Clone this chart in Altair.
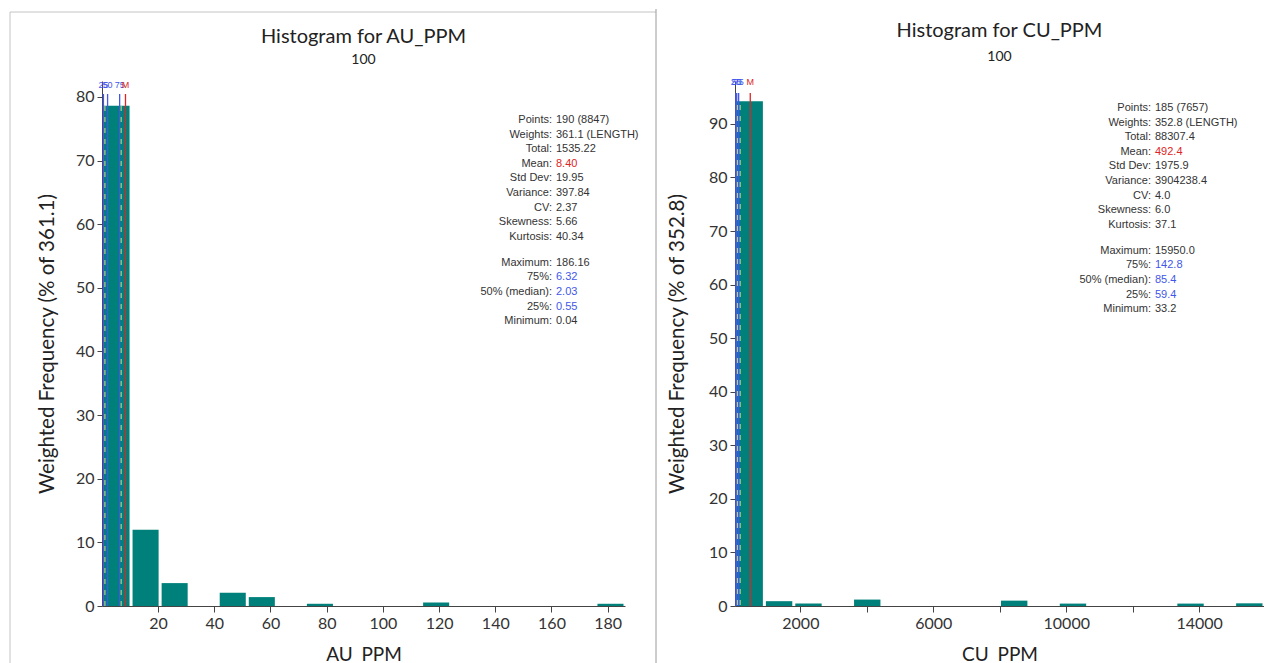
import altair as alt
import pandas as pd

# ---------------- data ----------------
au_name = "AU_PPM"
au_min, au_max = 0.04, 186.16
au_heights = [78.6, 12.0, 3.6, 0, 2.1, 1.4, 0, 0.35, 0, 0, 0, 0.55, 0, 0, 0, 0, 0, 0.35]
au_marker_vals = [0.55, 2.03, 6.32, 8.40]
au_stat_values = ["190 (8847)", "361.1 (LENGTH)", "1535.22", "8.40", "19.95", "397.84",
                  "2.37", "5.66", "40.34", "186.16", "6.32", "2.03", "0.55", "0.04"]
au_ytitle = "Weighted Frequency (% of 361.1)"
au_yticks = [0, 10, 20, 30, 40, 50, 60, 70, 80]
au_xticks = [20, 40, 60, 80, 100, 120, 140, 160, 180]

cu_name = "CU_PPM"
cu_min, cu_max = 33.2, 15950.0
cu_heights = [94.2, 0.9, 0.45, 0, 1.2, 0, 0, 0, 0, 1.0, 0, 0.45, 0, 0, 0, 0.45, 0, 0.5]
cu_marker_vals = [59.4, 85.4, 142.8, 492.4]
cu_stat_values = ["185 (7657)", "352.8 (LENGTH)", "88307.4", "492.4", "1975.9", "3904238.4",
                  "4.0", "6.0", "37.1", "15950.0", "142.8", "85.4", "59.4", "33.2"]
cu_ytitle = "Weighted Frequency (% of 352.8)"
cu_yticks = [0, 10, 20, 30, 40, 50, 60, 70, 80, 90]
cu_xticks = [2000, 4000, 6000, 8000, 10000, 12000, 14000]
cu_xlabeled = [2000, 6000, 10000, 14000]

subtitle = "100"
marker_labels = ["25", "50", "75", "M"]
stat_labels = ["Points:", "Weights:", "Total:", "Mean:", "Std Dev:", "Variance:", "CV:",
               "Skewness:", "Kurtosis:", "Maximum:", "75%:", "50% (median):", "25%:", "Minimum:"]
stat_kinds = ["n", "n", "n", "mean", "n", "n", "n", "n", "n", "n", "q", "q", "q", "n"]

# ---------------- style ----------------
TEAL = "#00807a"
BLUE = "#4257ea"
RED = "#e02424"
PALE = "#cfe08a"
TXT = "#333333"
FONT = "Lato"
SFONT = "Liberation Sans"
H = 525


def panel(name, vmin, vmax, heights, marker_vals, stat_values, ytitle, ydomain, yticks,
          xticks, labelexpr, width, title_y, sub_y, ytitle_x, stats_x, stats_y0,
          mlabel_y, mtop, borders):
    n = len(heights)
    w = (vmax - vmin) / n
    bars = pd.DataFrame({
        "start": [vmin + i * w for i in range(n)],
        "end": [vmin + (i + 1) * w for i in range(n)],
        "h": heights,
    })
    bars = bars[bars["h"] > 0]

    xargs = dict(values=xticks, title=name, format="d", labelFont=FONT, labelFontSize=16,
                 labelColor=TXT, tickSize=6, tickColor="#444", domainColor="#444",
                 labelPadding=3, labelFlush=False, grid=False, titleFont=FONT,
                 titleFontSize=19, titleFontWeight="normal", titleColor="#222",
                 titleX=width / 2, titleY=48, titleBaseline="middle")
    if labelexpr:
        xargs["labelExpr"] = labelexpr
    xaxis = alt.Axis(**xargs)
    yaxis = alt.Axis(values=yticks, title=ytitle, labelFont=FONT, labelFontSize=16,
                     labelColor=TXT, tickSize=5, tickColor="#444", domainColor="#444",
                     labelPadding=3, grid=False, titleFont=FONT, titleFontSize=20.5,
                     titleFontWeight="normal", titleColor="#222", titleX=ytitle_x,
                     titleY=H / 2, titleAngle=-90, titleBaseline="middle")

    xscale = alt.Scale(domain=[vmin, vmax], nice=False, zero=False)
    bar = alt.Chart(bars).mark_bar(color=TEAL, xOffset=1.5, x2Offset=-1.5).encode(
        x=alt.X("start:Q", scale=xscale, axis=xaxis),
        x2="end:Q",
        y=alt.Y("h:Q", scale=alt.Scale(domain=ydomain, nice=False), axis=yaxis),
        y2=alt.datum(0),
    )

    mk = pd.DataFrame({
        "v": marker_vals,
        "lab": marker_labels,
        "c": [BLUE, BLUE, BLUE, RED],
    })
    rules = alt.Chart(mk).mark_rule(strokeWidth=1.3).encode(
        x="v:Q", y=alt.value(mtop), y2=alt.value(H), color=alt.Color("c:N", scale=None))
    dashed = alt.Chart(mk.iloc[[0, 2]]).mark_rule(strokeWidth=1, strokeDash=[5, 6],
                                                  color=PALE, xOffset=1.5).encode(
        x="v:Q", y=alt.value(mtop + 12), y2=alt.value(H))
    mlabels = alt.Chart(mk).mark_text(font=SFONT, fontSize=9, baseline="middle").encode(
        x="v:Q", y=alt.value(mlabel_y), text="lab:N", color=alt.Color("c:N", scale=None))

    rows = []
    for i, (lab, val, kind) in enumerate(zip(stat_labels, stat_values, stat_kinds)):
        py = stats_y0 + i * 14.6 + (11.4 if i >= 9 else 0)
        col = RED if kind == "mean" else (BLUE if kind == "q" else TXT)
        rows.append({"label": lab, "value": val, "py": py, "vc": col})
    st = pd.DataFrame(rows)
    slabels = alt.Chart(st).mark_text(font=SFONT, fontSize=11, align="right",
                                      baseline="middle", color=TXT).encode(
        x=alt.value(stats_x), y=alt.Y("py:Q", scale=None, axis=None), text="label:N")
    svalues = alt.Chart(st).mark_text(font=SFONT, fontSize=11, align="left",
                                      baseline="middle").encode(
        x=alt.value(stats_x + 4), y=alt.Y("py:Q", scale=None, axis=None), text="value:N",
        color=alt.Color("vc:N", scale=None))

    ttl = alt.Chart(pd.DataFrame({"t": ["Histogram for " + name]})).mark_text(
        font=FONT, fontSize=20, color="#222", baseline="middle").encode(
        x=alt.value(width / 2), y=alt.value(title_y), text="t:N")
    sub = alt.Chart(pd.DataFrame({"t": [subtitle]})).mark_text(
        font=FONT, fontSize=14, color="#222", baseline="middle").encode(
        x=alt.value(width / 2), y=alt.value(sub_y), text="t:N")

    layers = [bar, rules, dashed, mlabels, slabels, svalues, ttl, sub]
    one = pd.DataFrame({"k": [0]})
    if borders:
        layers.append(alt.Chart(one).mark_rule(color="#c4c4c4", strokeWidth=1).encode(
            x=alt.value(-92), y=alt.value(-69), y2=alt.value(H + 58)))
        layers.append(alt.Chart(one).mark_rule(color="#c4c4c4", strokeWidth=1).encode(
            x=alt.value(-92), x2=alt.value(width + 31), y=alt.value(-69)))
        layers.append(alt.Chart(one).mark_rule(color="#9a9a9a", strokeWidth=1).encode(
            x=alt.value(width + 31), y=alt.value(-72), y2=alt.value(H + 58)))
    else:
        layers.append(alt.Chart(one).mark_rule(color="#9a9a9a", strokeWidth=1,
                                               strokeOpacity=0).encode(
            x=alt.value(-78), y=alt.value(-72), y2=alt.value(H + 58)))
    return alt.layer(*layers).properties(width=width, height=H)


left = panel(au_name, au_min, au_max, au_heights, au_marker_vals, au_stat_values, au_ytitle,
             [0, 82.5], au_yticks, au_xticks, None, 523, -44, -21, -55, 450, 39, 4, 13, True)
cu_expr = "indexof([" + ",".join(str(v) for v in cu_xlabeled) + "], datum.value) >= 0 ? datum.label : ''"
right = panel(cu_name, cu_min, cu_max, cu_heights, cu_marker_vals, cu_stat_values, cu_ytitle,
              [0, 98], cu_yticks, cu_xticks, cu_expr, 529, -50, -24, -58, 416, 27, 1, 12, False)

chart = alt.hconcat(left, right, spacing=0).properties(
    padding={"left": 1, "top": 0, "right": 0, "bottom": 0},
    background="white",
).configure_view(stroke=None)

chart.save("out.html", embed_options={"renderer": "svg", "actions": False})
